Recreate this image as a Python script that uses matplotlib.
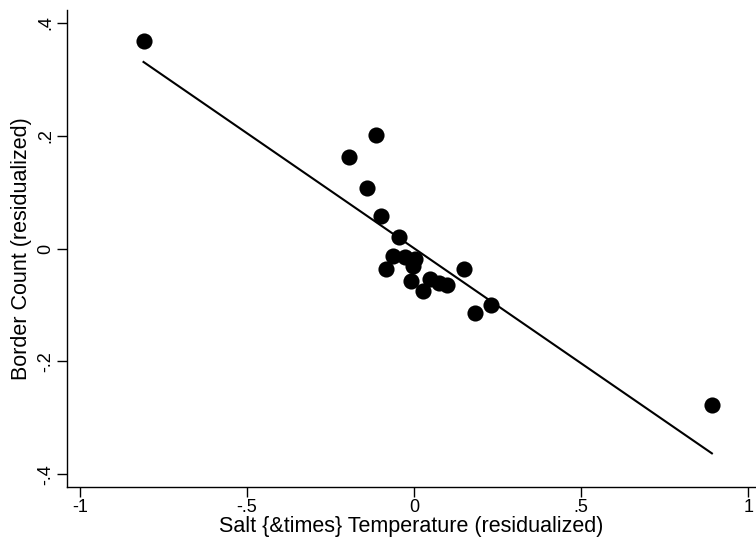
import numpy as np
import matplotlib
matplotlib.use("Agg")
import matplotlib.pyplot as plt

plt.rcParams['font.family'] = ['Liberation Sans', 'DejaVu Sans']

# residualized values, one dot per observation
salt_temp = [-0.810, -0.195, -0.115, -0.142, -0.100, -0.044, -0.062, -0.027, 0.003, -0.003,
             -0.084, -0.010, 0.025, 0.048, 0.073, 0.099, 0.148, 0.230, 0.182, 0.891]
border_count = [0.367, 0.162, 0.201, 0.107, 0.058, 0.021, -0.013, -0.015, -0.018, -0.031,
                -0.036, -0.058, -0.075, -0.054, -0.061, -0.065, -0.036, -0.100, -0.114, -0.278]

x_ticks = [-1, -0.5, 0, 0.5, 1]
x_tick_labels = ['-1', '-.5', '0', '.5', '1']
y_ticks = [-0.4, -0.2, 0, 0.2, 0.4]
y_tick_labels = ['-.4', '-.2', '0', '.2', '.4']

x = np.array(salt_temp)
y = np.array(border_count)
slope, intercept = np.polyfit(x, y, 1)  # OLS fit line

fig = plt.figure(figsize=(7.56, 5.42), dpi=100)
ax = fig.add_axes([0.0882, 0.1015, 0.9118, 0.880])

ax.scatter(x, y, s=135, color='black', zorder=3, linewidths=0)
xs = np.array([x.min(), x.max()])
ax.plot(xs, intercept + slope * xs, color='black', lw=1.5, zorder=2)

ax.set_xlim(-1.040, 1.023)
ax.set_ylim(-0.4225, 0.4225)
ax.set_xticks(x_ticks)
ax.set_xticklabels(x_tick_labels)
ax.set_yticks(y_ticks)
ax.set_yticklabels(y_tick_labels, rotation=90, va='center')

for side in ['top', 'right']:
    ax.spines[side].set_visible(False)
for side in ['left', 'bottom']:
    ax.spines[side].set_linewidth(1.0)
ax.tick_params(direction='out', length=7, width=1.0, labelsize=13, pad=2)

ax.set_xlabel('Salt {&times} Temperature (residualized)', fontsize=15.5, labelpad=0)
ax.set_ylabel('Border Count (residualized)', fontsize=15.5, labelpad=4)

fig.savefig('out.png', dpi=100)
